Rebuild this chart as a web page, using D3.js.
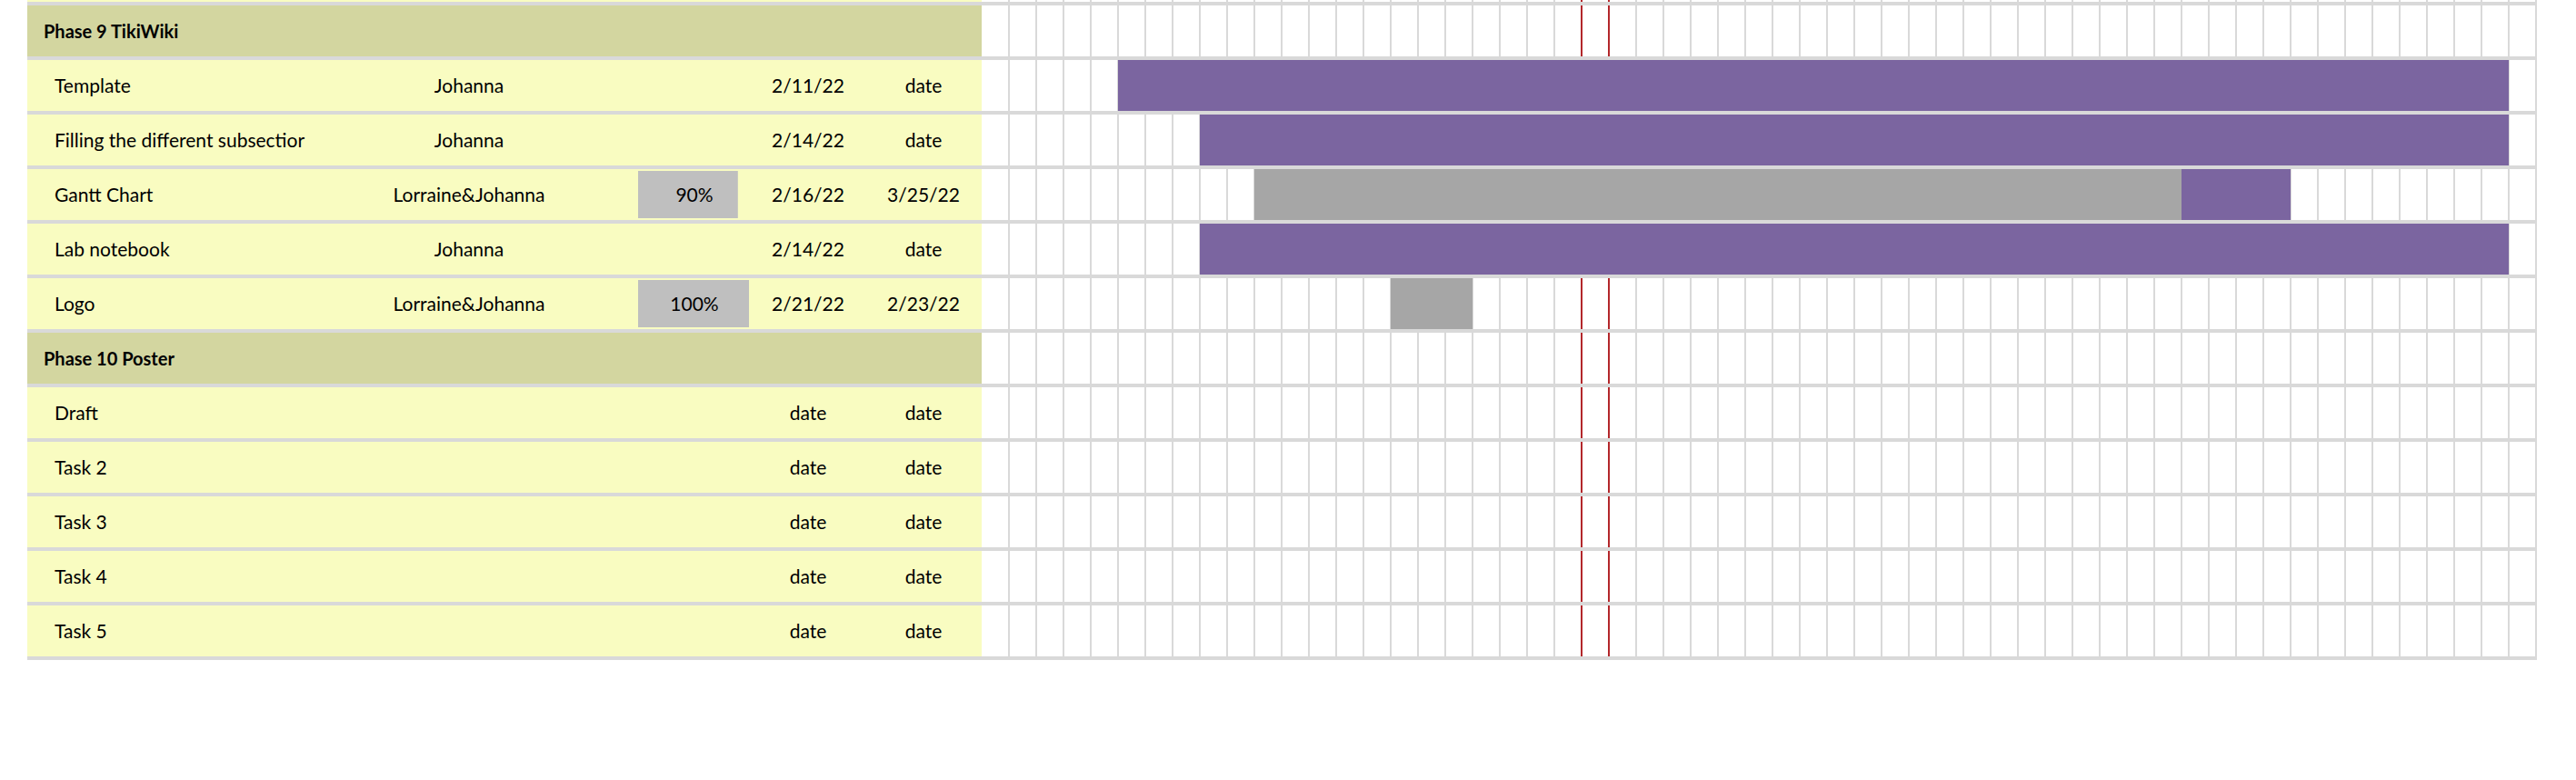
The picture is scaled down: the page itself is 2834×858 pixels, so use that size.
<!DOCTYPE html>
<html>
<head>
<meta charset="utf-8">
<script src="https://cdn.jsdelivr.net/npm/d3@7"></script>
<style>
  html, body { margin: 0; padding: 0; background: #ffffff; }
  svg { display: block; }
  text { font-family: Lato, "Open Sans", sans-serif; fill: #000; }
</style>
</head>
<body>
<script>
// ---------------- data ----------------
const phaseNames = ["Phase 9 TikiWiki", "Phase 10 Poster"];
const taskNames = ["Template", "Filling the different subsectior", "Gantt Chart", "Lab notebook", "Logo",
                   "Draft", "Task 2", "Task 3", "Task 4", "Task 5"];
const taskPhase = [0, 0, 0, 0, 0, 1, 1, 1, 1, 1];
const assignedTo = ["Johanna", "Johanna", "Lorraine&Johanna", "Johanna", "Lorraine&Johanna", "", "", "", "", ""];
const progressValues = [null, null, 0.9, null, 1.0, null, null, null, null, null];
const progressLabels = ["", "", "90%", "", "100%", "", "", "", "", ""];
const startLabels = ["2/11/22", "2/14/22", "2/16/22", "2/14/22", "2/21/22", "date", "date", "date", "date", "date"];
const endLabels = ["date", "date", "3/25/22", "date", "2/23/22", "date", "date", "date", "date", "date"];
const timelineStart = "2/6/22";
const timelineEnd = "4/4/22";
const openTaskEnd = "4/2/22";   // tasks without end date run to here (inclusive)
const todayLabel = "2/28/22";

// ---------------- helpers ----------------
const parse = s => { const [m, d, y] = s.split("/").map(Number); return new Date(Date.UTC(2000 + y, m - 1, d)); };
const isDate = s => /^\d+\/\d+\/\d+$/.test(s);
const addDays = (dt, n) => d3.utcDay.offset(dt, n);

const W = 2834, H = 858;
const svg = d3.select("body").append("svg").attr("width", W).attr("height", H);

// Rows: phase header, its tasks, next phase header, its tasks
const rows = [];
phaseNames.forEach((p, pi) => {
  rows.push({ type: "phase", name: p });
  taskNames.forEach((t, ti) => { if (taskPhase[ti] === pi) rows.push({ type: "task", i: ti }); });
});

const y = d3.scaleLinear().domain([0, rows.length]).range([2, 722]);
const sepH = 4;
const x = d3.scaleUtc().domain([parse(timelineStart), parse(timelineEnd)]).range([1080, 2790]);

const tableLeft = 30, tableRight = x.range()[0];
const colName = 60, colPhase = 48, colAssigned = 516, colProgBar = 702, progBarMax = 122,
      colProgText = 764, colStart = 889, colEnd = 1016;

const COL = {
  phase: "#d3d6a0", task: "#f9fcc1", sep: "#d9d9d9", purple: "#7b65a0",
  done: "#a6a6a6", dataBar: "#bfbfbf", red: "#b3272b"
};

// ---------- left table backgrounds ----------
svg.append("rect").attr("x", tableLeft).attr("y", 0).attr("width", tableRight - tableLeft).attr("height", y(0))
  .attr("fill", COL.task);
svg.append("g").selectAll("rect").data(rows).join("rect")
  .attr("x", tableLeft).attr("y", (d, i) => y(i) + sepH)
  .attr("width", tableRight - tableLeft).attr("height", (d, i) => y(i + 1) - y(i) - sepH)
  .attr("fill", d => d.type === "phase" ? COL.phase : COL.task);

// ---------- timeline grid ----------
const days = d3.utcDay.range(addDays(x.domain()[0], 1), addDays(x.domain()[1], 1));
svg.append("g").selectAll("rect").data(days).join("rect")
  .attr("x", d => x(d) - 1).attr("y", 0).attr("width", 2).attr("height", y(rows.length) + sepH)
  .attr("fill", COL.sep);

// today markers (column borders)
const today = parse(todayLabel);
svg.append("g").selectAll("rect").data([today, addDays(today, 1)]).join("rect")
  .attr("x", d => x(d) - 1).attr("y", 0).attr("width", 2).attr("height", y(rows.length) + sepH)
  .attr("fill", COL.red);

// ---------- gantt bars ----------
const barG = svg.append("g");
rows.forEach((r, ri) => {
  if (r.type !== "task") return;
  const i = r.i;
  if (!isDate(startLabels[i])) return;
  const s = parse(startLabels[i]);
  const eIncl = isDate(endLabels[i]) ? parse(endLabels[i]) : parse(openTaskEnd);
  const e = addDays(eIncl, 1);
  const dur = d3.utcDay.count(s, e);
  const doneDays = progressValues[i] == null ? 0 : Math.floor(dur * progressValues[i] + 1e-9);
  const mid = addDays(s, doneDays);
  const top = y(ri) + sepH, h = y(ri + 1) - y(ri) - sepH;
  if (doneDays > 0) barG.append("rect").attr("x", x(s)).attr("y", top).attr("width", x(mid) - x(s)).attr("height", h).attr("fill", COL.done);
  if (doneDays < dur) barG.append("rect").attr("x", x(mid)).attr("y", top).attr("width", x(e) - x(mid)).attr("height", h).attr("fill", COL.purple);
});

// ---------- horizontal separators ----------
svg.append("g").selectAll("rect").data(d3.range(rows.length + 1)).join("rect")
  .attr("x", tableLeft).attr("y", d => y(d)).attr("width", x.range()[1] + 1 - tableLeft).attr("height", sepH)
  .attr("fill", COL.sep);

// ---------- progress data bars ----------
const prog = d3.scaleLinear().domain([0, 1]).range([0, progBarMax]);
rows.forEach((r, ri) => {
  if (r.type !== "task" || progressValues[r.i] == null) return;
  svg.append("rect").attr("x", colProgBar).attr("y", y(ri) + sepH + 2)
    .attr("width", prog(progressValues[r.i])).attr("height", y(ri + 1) - y(ri) - sepH - 4)
    .attr("fill", COL.dataBar);
});

// ---------- texts ----------
const fs = 21;
const txt = svg.append("g").attr("font-size", fs);
rows.forEach((r, ri) => {
  const base = (y(ri) + sepH + y(ri + 1)) / 2 + 7.5;
  if (r.type === "phase") {
    txt.append("text").attr("x", colPhase).attr("y", base).attr("font-weight", "bold").attr("font-size", 20).text(r.name);
    return;
  }
  const i = r.i;
  txt.append("text").attr("x", colName).attr("y", base).text(taskNames[i]);
  if (assignedTo[i]) txt.append("text").attr("x", colAssigned).attr("y", base).attr("text-anchor", "middle").text(assignedTo[i]);
  if (progressLabels[i]) txt.append("text").attr("x", colProgText).attr("y", base).attr("text-anchor", "middle").text(progressLabels[i]);
  txt.append("text").attr("x", colStart).attr("y", base).attr("text-anchor", "middle").text(startLabels[i]);
  txt.append("text").attr("x", colEnd).attr("y", base).attr("text-anchor", "middle").text(endLabels[i]);
});
</script>
</body>
</html>
